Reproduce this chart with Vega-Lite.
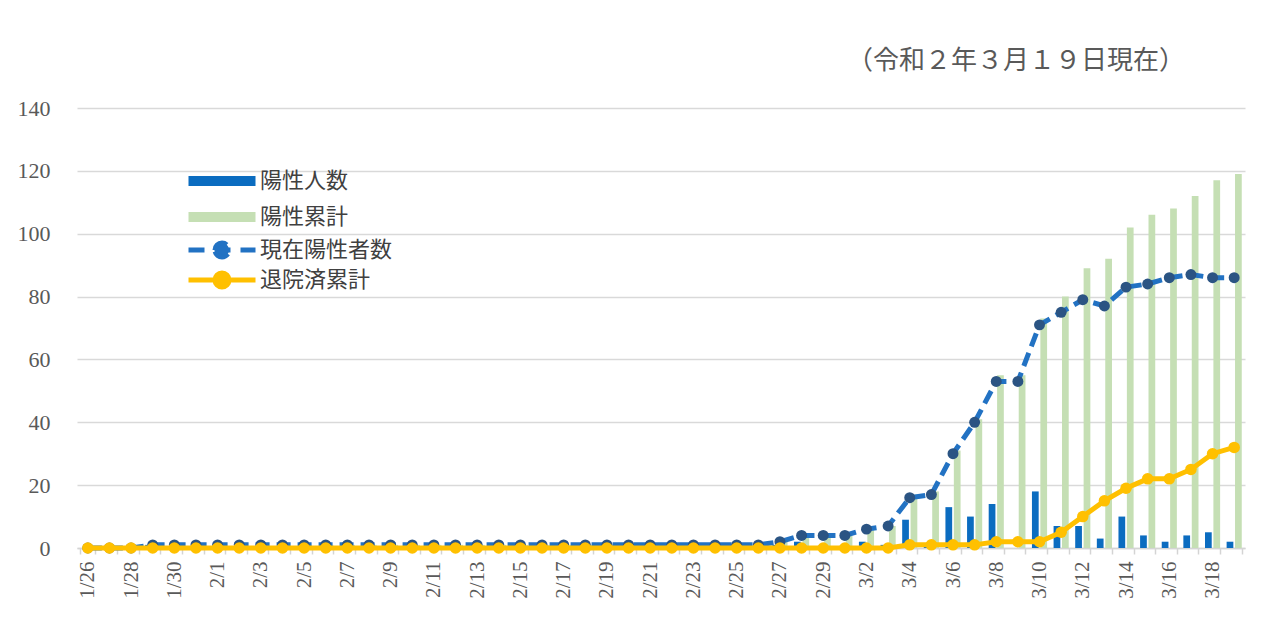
{
  "$schema": "https://vega.github.io/schema/vega-lite/v6.json",
  "width": 1168,
  "height": 440,
  "autosize": {"type": "none"},
  "padding": {"left": 77, "top": 108, "right": 18, "bottom": 84},
  "background": "white",
  "title": {
    "text": "（令和２年３月１９日現在）",
    "anchor": "end",
    "offset": 23,
    "dx": -60,
    "font": "Noto Sans CJK JP",
    "fontSize": 26,
    "fontWeight": "normal",
    "color": "#595959"
  },
  "config": {"view": {"stroke": null}},
  "data": {
    "values": [
      {"date": "2020-01-26", "陽性人数": 0, "陽性累計": 0, "現在陽性者数": 0, "退院済累計": 0},
      {"date": "2020-01-27", "陽性人数": 0, "陽性累計": 0, "現在陽性者数": 0, "退院済累計": 0},
      {"date": "2020-01-28", "陽性人数": 0, "陽性累計": 0, "現在陽性者数": 0, "退院済累計": 0},
      {"date": "2020-01-29", "陽性人数": 1, "陽性累計": 1, "現在陽性者数": 1, "退院済累計": 0},
      {"date": "2020-01-30", "陽性人数": 0, "陽性累計": 1, "現在陽性者数": 1, "退院済累計": 0},
      {"date": "2020-01-31", "陽性人数": 0, "陽性累計": 1, "現在陽性者数": 1, "退院済累計": 0},
      {"date": "2020-02-01", "陽性人数": 0, "陽性累計": 1, "現在陽性者数": 1, "退院済累計": 0},
      {"date": "2020-02-02", "陽性人数": 0, "陽性累計": 1, "現在陽性者数": 1, "退院済累計": 0},
      {"date": "2020-02-03", "陽性人数": 0, "陽性累計": 1, "現在陽性者数": 1, "退院済累計": 0},
      {"date": "2020-02-04", "陽性人数": 0, "陽性累計": 1, "現在陽性者数": 1, "退院済累計": 0},
      {"date": "2020-02-05", "陽性人数": 0, "陽性累計": 1, "現在陽性者数": 1, "退院済累計": 0},
      {"date": "2020-02-06", "陽性人数": 0, "陽性累計": 1, "現在陽性者数": 1, "退院済累計": 0},
      {"date": "2020-02-07", "陽性人数": 0, "陽性累計": 1, "現在陽性者数": 1, "退院済累計": 0},
      {"date": "2020-02-08", "陽性人数": 0, "陽性累計": 1, "現在陽性者数": 1, "退院済累計": 0},
      {"date": "2020-02-09", "陽性人数": 0, "陽性累計": 1, "現在陽性者数": 1, "退院済累計": 0},
      {"date": "2020-02-10", "陽性人数": 0, "陽性累計": 1, "現在陽性者数": 1, "退院済累計": 0},
      {"date": "2020-02-11", "陽性人数": 0, "陽性累計": 1, "現在陽性者数": 1, "退院済累計": 0},
      {"date": "2020-02-12", "陽性人数": 0, "陽性累計": 1, "現在陽性者数": 1, "退院済累計": 0},
      {"date": "2020-02-13", "陽性人数": 0, "陽性累計": 1, "現在陽性者数": 1, "退院済累計": 0},
      {"date": "2020-02-14", "陽性人数": 0, "陽性累計": 1, "現在陽性者数": 1, "退院済累計": 0},
      {"date": "2020-02-15", "陽性人数": 0, "陽性累計": 1, "現在陽性者数": 1, "退院済累計": 0},
      {"date": "2020-02-16", "陽性人数": 0, "陽性累計": 1, "現在陽性者数": 1, "退院済累計": 0},
      {"date": "2020-02-17", "陽性人数": 0, "陽性累計": 1, "現在陽性者数": 1, "退院済累計": 0},
      {"date": "2020-02-18", "陽性人数": 0, "陽性累計": 1, "現在陽性者数": 1, "退院済累計": 0},
      {"date": "2020-02-19", "陽性人数": 0, "陽性累計": 1, "現在陽性者数": 1, "退院済累計": 0},
      {"date": "2020-02-20", "陽性人数": 0, "陽性累計": 1, "現在陽性者数": 1, "退院済累計": 0},
      {"date": "2020-02-21", "陽性人数": 0, "陽性累計": 1, "現在陽性者数": 1, "退院済累計": 0},
      {"date": "2020-02-22", "陽性人数": 0, "陽性累計": 1, "現在陽性者数": 1, "退院済累計": 0},
      {"date": "2020-02-23", "陽性人数": 0, "陽性累計": 1, "現在陽性者数": 1, "退院済累計": 0},
      {"date": "2020-02-24", "陽性人数": 0, "陽性累計": 1, "現在陽性者数": 1, "退院済累計": 0},
      {"date": "2020-02-25", "陽性人数": 0, "陽性累計": 1, "現在陽性者数": 1, "退院済累計": 0},
      {"date": "2020-02-26", "陽性人数": 0, "陽性累計": 1, "現在陽性者数": 1, "退院済累計": 0},
      {"date": "2020-02-27", "陽性人数": 1, "陽性累計": 2, "現在陽性者数": 2, "退院済累計": 0},
      {"date": "2020-02-28", "陽性人数": 2, "陽性累計": 4, "現在陽性者数": 4, "退院済累計": 0},
      {"date": "2020-02-29", "陽性人数": 0, "陽性累計": 4, "現在陽性者数": 4, "退院済累計": 0},
      {"date": "2020-03-01", "陽性人数": 0, "陽性累計": 4, "現在陽性者数": 4, "退院済累計": 0},
      {"date": "2020-03-02", "陽性人数": 2, "陽性累計": 6, "現在陽性者数": 6, "退院済累計": 0},
      {"date": "2020-03-03", "陽性人数": 1, "陽性累計": 7, "現在陽性者数": 7, "退院済累計": 0},
      {"date": "2020-03-04", "陽性人数": 9, "陽性累計": 17, "現在陽性者数": 16, "退院済累計": 1},
      {"date": "2020-03-05", "陽性人数": 1, "陽性累計": 18, "現在陽性者数": 17, "退院済累計": 1},
      {"date": "2020-03-06", "陽性人数": 13, "陽性累計": 31, "現在陽性者数": 30, "退院済累計": 1},
      {"date": "2020-03-07", "陽性人数": 10, "陽性累計": 41, "現在陽性者数": 40, "退院済累計": 1},
      {"date": "2020-03-08", "陽性人数": 14, "陽性累計": 55, "現在陽性者数": 53, "退院済累計": 2},
      {"date": "2020-03-09", "陽性人数": 0, "陽性累計": 55, "現在陽性者数": 53, "退院済累計": 2},
      {"date": "2020-03-10", "陽性人数": 18, "陽性累計": 73, "現在陽性者数": 71, "退院済累計": 2},
      {"date": "2020-03-11", "陽性人数": 7, "陽性累計": 80, "現在陽性者数": 75, "退院済累計": 5},
      {"date": "2020-03-12", "陽性人数": 7, "陽性累計": 89, "現在陽性者数": 79, "退院済累計": 10},
      {"date": "2020-03-13", "陽性人数": 3, "陽性累計": 92, "現在陽性者数": 77, "退院済累計": 15},
      {"date": "2020-03-14", "陽性人数": 10, "陽性累計": 102, "現在陽性者数": 83, "退院済累計": 19},
      {"date": "2020-03-15", "陽性人数": 4, "陽性累計": 106, "現在陽性者数": 84, "退院済累計": 22},
      {"date": "2020-03-16", "陽性人数": 2, "陽性累計": 108, "現在陽性者数": 86, "退院済累計": 22},
      {"date": "2020-03-17", "陽性人数": 4, "陽性累計": 112, "現在陽性者数": 87, "退院済累計": 25},
      {"date": "2020-03-18", "陽性人数": 5, "陽性累計": 117, "現在陽性者数": 86, "退院済累計": 30},
      {"date": "2020-03-19", "陽性人数": 2, "陽性累計": 119, "現在陽性者数": 86, "退院済累計": 32}
    ]
  },
  "layer": [
    {
      "transform": [{"fold": ["陽性人数", "陽性累計"], "as": ["series", "count"]}],
      "mark": {"type": "bar"},
      "encoding": {
        "x": {
          "field": "date", "timeUnit": "utcmonthdate", "type": "ordinal", "title": null,
          "scale": {"paddingInner": 0.3, "paddingOuter": 0.15},
          "axis": {
            "labelAngle": -90,
            "labelExpr": "round(datum.index * 53) % 2 === 0 ? utcFormat(datum.value, '%-m/%-d') : ''",
            "labelFont": "Liberation Serif",
            "labelFontSize": 21,
            "labelColor": "#595959",
            "labelPadding": 7,
            "labelOverlap": false,
            "labelBound": false,
            "domainColor": "#d4d4d4",
            "domainWidth": 1.5,
            "tickColor": "#d4d4d4",
            "tickWidth": 1.5,
            "tickSize": 6,
            "tickBand": "extent",
            "grid": false
          }
        },
        "xOffset": {"field": "series", "type": "nominal", "scale": {"domain": ["陽性人数", "陽性累計"], "paddingInner": 0.2}},
        "y": {
          "field": "count", "type": "quantitative", "title": null,
          "scale": {"domain": [0, 140]},
          "axis": {
            "values": [0, 20, 40, 60, 80, 100, 120, 140],
            "labelFont": "Liberation Serif",
            "labelFontSize": 22,
            "labelColor": "#595959",
            "labelPadding": 27,
            "domain": false,
            "ticks": false,
            "gridColor": "#d9d9d9",
            "gridWidth": 1.5
          }
        },
        "color": {
          "field": "series", "type": "nominal",
          "scale": {
            "domain": ["陽性人数", "陽性累計", "現在陽性者数", "退院済累計"],
            "range": ["#0b6cc0", "#c5dfb4", "#2272c3", "#ffc000"]
          },
          "legend": {
            "title": null,
            "orient": "none",
            "legendX": 134,
            "legendY": 62,
            "direction": "vertical",
            "padding": 0,
            "labelFont": "Noto Sans CJK JP",
            "labelFontSize": 22,
            "labelColor": "#404040",
            "labelOffset": 27,
            "symbolSize": 400,
            "rowPadding": -4,
            "encode": {
              "symbols": {
                "update": {
                  "shape": {"signal": "(datum.value === '陽性人数' || datum.value === '陽性累計') ? 'M-3.35,0H3.35' : 'M-3.35,0H3.35M-0.7,0A0.7,0.7,0,1,1,0.7,0A0.7,0.7,0,1,1,-0.7,0'"},
                  "stroke": {"signal": "datum.value === '陽性人数' ? '#0b6cc0' : datum.value === '陽性累計' ? '#c5dfb4' : datum.value === '現在陽性者数' ? '#2272c3' : '#ffc000'"},
                  "fill": {"signal": "datum.value === '現在陽性者数' ? '#2b5483' : datum.value === '退院済累計' ? '#ffc000' : 'transparent'"},
                  "strokeWidth": {"signal": "(datum.value === '陽性人数' || datum.value === '陽性累計') ? 10 : 5"},
                  "strokeDash": {"signal": "datum.value === '現在陽性者数' ? [16, 10] : null"},
                  "size": {"value": 400},
                  "opacity": {"value": 1}
                }
              }
            }
          }
        }
      }
    },
    {
      "mark": {"type": "line", "strokeWidth": 5, "strokeDash": [14, 7]},
      "encoding": {
        "x": {"field": "date", "timeUnit": "utcmonthdate", "type": "ordinal", "title": null},
        "y": {"field": "現在陽性者数", "type": "quantitative", "title": null},
        "color": {"datum": "現在陽性者数"}
      }
    },
    {
      "mark": {"type": "point", "shape": "circle", "filled": true, "size": 120, "opacity": 1, "color": "#2b5483"},
      "encoding": {
        "x": {"field": "date", "timeUnit": "utcmonthdate", "type": "ordinal", "title": null},
        "y": {"field": "現在陽性者数", "type": "quantitative", "title": null}
      }
    },
    {
      "mark": {"type": "line", "strokeWidth": 5},
      "encoding": {
        "x": {"field": "date", "timeUnit": "utcmonthdate", "type": "ordinal", "title": null},
        "y": {"field": "退院済累計", "type": "quantitative", "title": null},
        "color": {"datum": "退院済累計"}
      }
    },
    {
      "mark": {"type": "point", "shape": "circle", "filled": true, "size": 133, "opacity": 1, "color": "#ffc000"},
      "encoding": {
        "x": {"field": "date", "timeUnit": "utcmonthdate", "type": "ordinal", "title": null},
        "y": {"field": "退院済累計", "type": "quantitative", "title": null}
      }
    }
  ]
}
